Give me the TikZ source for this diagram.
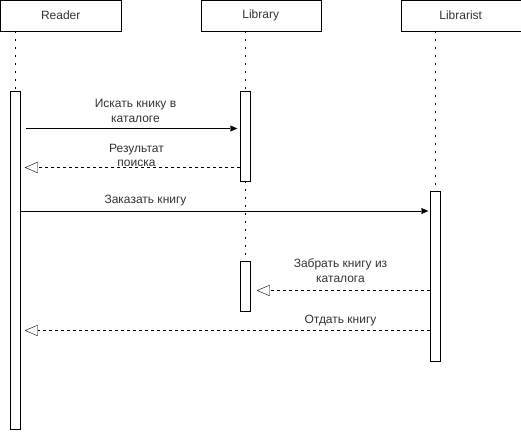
\documentclass[tikz,border=0pt]{standalone}
\usepackage{fontspec}
\setmainfont{Liberation Sans}
\usetikzlibrary{arrows.meta}

\begin{document}
\begin{tikzpicture}[x=1pt, y=-1pt,
    font=\fontsize{12pt}{14.5pt}\selectfont, text=black!80,
    head/.style={draw, minimum width=120pt, minimum height=30pt, anchor=north west, inner sep=0pt},
    bar/.style={draw, fill=white, minimum width=10pt, anchor=north, inner sep=0pt},
    life/.style={line width=1.7pt, dash pattern=on 1.7pt off 6.3pt},
    call/.style={-{Triangle[length=7pt,width=6pt]}},
    reply/.style={dashed, -{Triangle[open,length=13pt,width=11pt]}},
    msg/.style={align=center, inner sep=0pt}
  ]
  \useasboundingbox (-0.5,-0.5) rectangle (520.5,430.5);
  \foreach \n/\t/\x in {reader/Reader/0, library/Library/200, librarist/Librarist/400}
    \node[head] (\n) at (\x,0) {\t};
  \foreach \n/\x/\y/\h in {readA/15/90/338, libA/245/90/90, libB/245/260/50, lrnA/435/190/170}
    \node[bar, minimum height=\h pt] (\n) at (\x,\y) {};
  \draw[life] (readA.north |- reader.south) -- (readA.north);
  \draw[life] (libA.north |- library.south) -- (libA.north);
  \draw[life] (libA.south) -- (libB.north);
  \draw[life] (lrnA.north |- librarist.south) -- (lrnA.north);
  % messages
  \draw[call, shorten <=5pt, shorten >=3pt] (readA.east |- 0,128) -- (libA.west |- 0,128);
  \draw[reply, shorten >=4pt] (libA.west |- 0,167) -- (readA.east |- 0,167);
  \draw[call, shorten >=2pt] (readA.east |- 0,210.5) -- (lrnA.west |- 0,210.5);
  \draw[reply, shorten >=6pt] (lrnA.west |- 0,290) -- (libB.east |- 0,290);
  \draw[reply, shorten >=4pt] (lrnA.west |- 0,330) -- (readA.east |- 0,330);
  \node[msg] (search) at (135,110.5) {Искать книку в\\каталоге};
  \node[msg, fill=white] (result) at (136,155) {Результат\\поиска};
  \node[msg] (order) at (145,200) {Заказать книгу};
  \node[msg] (fetch) at (340,270) {Забрать книгу из\\каталога};
  \node[msg] (give) at (340,320) {Отдать книгу};
\end{tikzpicture}
\end{document}
